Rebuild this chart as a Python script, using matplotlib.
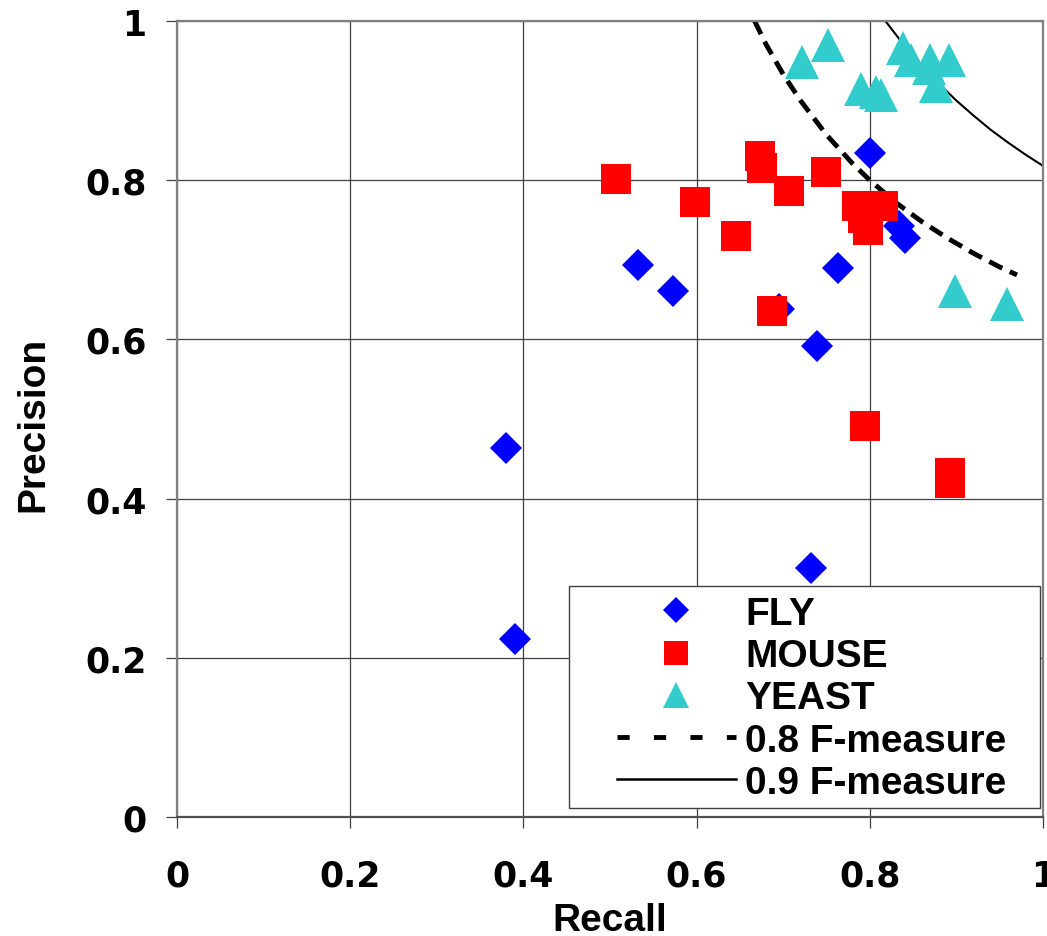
import matplotlib
matplotlib.use("Agg")
import matplotlib.pyplot as plt
from matplotlib.lines import Line2D
from matplotlib.patches import Rectangle

plt.rcParams['font.family'] = ['Liberation Sans', 'DejaVu Sans']
plt.rcParams['font.weight'] = 'bold'

# ---- data ----
fly_recall = [0.380, 0.390, 0.532, 0.573, 0.695, 0.732, 0.739, 0.763, 0.800, 0.834, 0.841]
fly_precision = [0.464, 0.223, 0.694, 0.661, 0.638, 0.313, 0.592, 0.690, 0.834, 0.742, 0.728]

mouse_recall = [0.507, 0.598, 0.646, 0.673, 0.676, 0.707, 0.749, 0.785, 0.815,
                0.792, 0.798, 0.687, 0.795, 0.893, 0.893]
mouse_precision = [0.802, 0.772, 0.730, 0.831, 0.815, 0.787, 0.810, 0.768, 0.768,
                   0.753, 0.737, 0.636, 0.491, 0.432, 0.420]

yeast_recall = [0.722, 0.752, 0.838, 0.847, 0.870, 0.868, 0.891, 0.876, 0.790,
                0.807, 0.813, 0.898, 0.959]
yeast_precision = [0.948, 0.970, 0.966, 0.951, 0.951, 0.941, 0.951, 0.918, 0.915,
                   0.911, 0.907, 0.661, 0.644]

f08_recall = [0.667, 0.68, 0.70, 0.72, 0.75, 0.78, 0.80, 0.83, 0.86, 0.89, 0.92, 0.95, 0.97]
f08_precision = [1.000, 0.971, 0.933, 0.900, 0.857, 0.821, 0.800, 0.772, 0.748, 0.727, 0.708, 0.691, 0.681]

f09_recall = [0.818, 0.84, 0.86, 0.88, 0.90, 0.92, 0.94, 0.96, 0.98, 1.00]
f09_precision = [1.000, 0.969, 0.944, 0.921, 0.900, 0.881, 0.863, 0.847, 0.832, 0.818]

ticks = [0, 0.2, 0.4, 0.6, 0.8, 1.0]
tick_labels = ['0', '0.2', '0.4', '0.6', '0.8', '1']

W, H = 1047, 937
fig = plt.figure(figsize=(W / 100, H / 100), dpi=100)
ax = fig.add_axes([177 / W, (H - 818) / H, (1043 - 177) / W, (818 - 22) / H])

ax.set_xlim(0, 1)
ax.set_ylim(0, 1)
ax.set_xticks(ticks)
ax.set_yticks(ticks)
ax.set_xticklabels(tick_labels)
ax.set_yticklabels(tick_labels)
ax.grid(True, color='#404040', linewidth=0.9)
ax.set_axisbelow(True)

for s in ['top', 'right', 'left']:
    ax.spines[s].set_color('#808080')
    ax.spines[s].set_linewidth(1.6)
ax.spines['bottom'].set_color('#505050')
ax.spines['bottom'].set_linewidth(1.6)

ax.tick_params(axis='y', direction='out', length=8, width=0.9, color='#404040',
               pad=14, labelsize=25)
ax.tick_params(axis='x', direction='out', length=8, width=0.9, color='#404040',
               pad=22, labelsize=25)
for lab in ax.get_xticklabels() + ax.get_yticklabels():
    lab.set_fontweight('bold')
    lab.set_fontfamily(['DejaVu Sans'])

# F-measure curves
ax.plot(f08_recall, f08_precision, color='black', linewidth=3.5,
        dashes=(3, 1.7), zorder=2, clip_on=False)
ax.plot(f09_recall, f09_precision, color='black', linewidth=1.5, zorder=2)

# scatter series
ax.plot(fly_recall, fly_precision, linestyle='none', marker='D', markersize=16,
        color='#0000FF', markeredgewidth=0, zorder=3)
ax.plot(mouse_recall, mouse_precision, linestyle='none', marker='s', markersize=21,
        color='#FF0000', markeredgewidth=0, zorder=4)
ax.plot(yeast_recall, yeast_precision, linestyle='none', marker='^', markersize=24,
        color='#33CCCC', markeredgewidth=0, zorder=5)

# legend (proxies)
handles = [
    Line2D([], [], linestyle='none', marker='D', markersize=13, color='#0000FF', markeredgewidth=0),
    Line2D([], [], linestyle='none', marker='s', markersize=17, color='#FF0000', markeredgewidth=0),
    Line2D([], [], linestyle='none', marker='^', markersize=19, color='#33CCCC', markeredgewidth=0),
    Line2D([], [], color='black', linewidth=3.5, dashes=(2.5, 5)),
    Line2D([], [], color='black', linewidth=1.8),
]
labels = ['FLY', 'MOUSE', 'YEAST', '0.8 F-measure', '0.9 F-measure']
leg = fig.legend(handles, labels, loc='upper left',
                 bbox_to_anchor=(617 / W, (H - 597) / H),
                 frameon=False, borderpad=0, borderaxespad=0,
                 handlelength=3.05, handletextpad=0.25, labelspacing=0.16,
                 prop={'family': 'Liberation Sans', 'weight': 'bold', 'size': 28})
fig.patches.append(Rectangle((569 / W, (H - 809) / H), (1040 - 569) / W, (809 - 587) / H,
                             transform=fig.transFigure, facecolor='white',
                             edgecolor='#404040', linewidth=1.0, zorder=0.5))
leg.set_zorder(10)

fig.text(610 / W, (H - 931) / H, 'Recall', ha='center', va='baseline',
         fontsize=28, fontweight='bold')
fig.text(43 / W, (H - 424) / H, 'Precision', rotation=90, rotation_mode='anchor',
         ha='center', va='baseline', fontsize=28, fontweight='bold')

fig.savefig('out.png', dpi=100)
